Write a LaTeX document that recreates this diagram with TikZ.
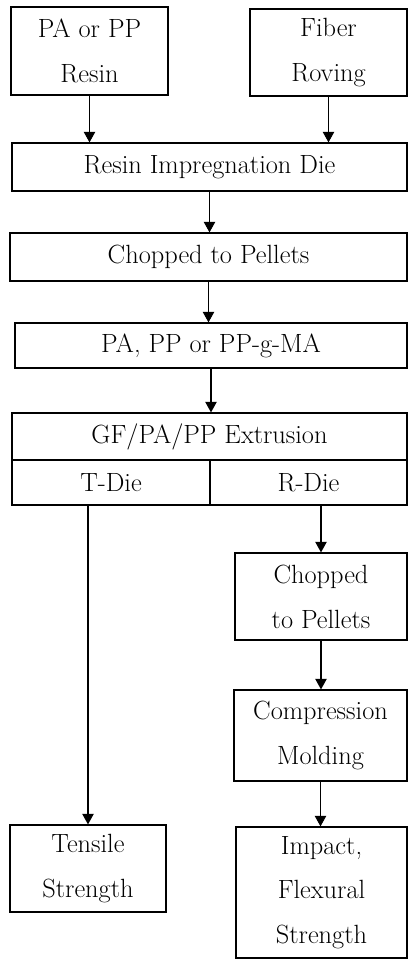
\documentclass[tikz,border=0pt]{standalone}
\usepackage{amsmath}
\usepackage{tikz}
\usetikzlibrary{arrows.meta}

\tikzset{
  box/.style={draw, line width=0.7pt, align=center, inner sep=0pt,
    font=\fontsize{15pt}{25.5pt}\selectfont},
  flow/.style={-{Triangle[length=6pt,width=6.5pt]}, line width=0.6pt}
}

\begin{document}
\begin{tikzpicture}
\useasboundingbox (0,0) rectangle (8.16,-19.2);
% raw materials
\node[box, minimum width=3.14cm, minimum height=1.76cm] (resin) at (1.79,-1.02) {PA or PP\\Resin};
\node[box, minimum width=3.14cm, minimum height=1.74cm] (fiber) at (6.57,-1.05) {Fiber\\Roving};
% pellet route
\node[box, minimum width=7.90cm, minimum height=0.96cm] (die) at (4.19,-3.34) {Resin Impregnation Die};
\node[box, minimum width=7.94cm, minimum height=0.96cm] (chop) at (4.17,-5.14) {Chopped to Pellets};
\node[box, minimum width=7.84cm, minimum height=0.90cm] (matrix) at (4.22,-6.91) {PA, PP or PP-g-MA};
% extrusion with the two dies
\node[box, minimum width=7.90cm, minimum height=0.94cm] (extr) at (4.19,-8.73) {GF/PA/PP Extrusion};
\node[box, minimum width=3.96cm, minimum height=0.90cm] (tdie) at (2.22,-9.65) {T-Die};
\node[box, minimum width=3.94cm, minimum height=0.90cm] (rdie) at (6.17,-9.65) {R-Die};
% R-Die branch
\node[box, minimum width=3.44cm, minimum height=1.74cm] (pellet) at (6.42,-11.93) {Chopped\\to Pellets};
\node[box, minimum width=3.46cm, minimum height=1.82cm] (mold) at (6.41,-14.71) {Compression\\Molding};
% tests
\node[box, minimum width=3.12cm, minimum height=1.74cm] (tensile) at (1.76,-17.37) {Tensile\\Strength};
\node[box, minimum width=3.42cm, minimum height=2.62cm] (impact) at (6.43,-17.85) {Impact,\\Flexural\\Strength};

\draw[flow] (resin.south) -- (resin.south |- die.north);
\draw[flow] (fiber.south) -- (fiber.south |- die.north);
\draw[flow] (die.south) -- (die.south |- chop.north);
\draw[flow] (chop.south) -- (chop.south |- matrix.north);
\draw[flow] (matrix.south) -- (matrix.south |- extr.north);
\draw[flow] (tensile.north |- tdie.south) -- (tensile.north);
\draw[flow] (pellet.north |- rdie.south) -- (pellet.north);
\draw[flow] (pellet.south) -- (pellet.south |- mold.north);
\draw[flow] (mold.south) -- (mold.south |- impact.north);
\end{tikzpicture}
\end{document}
